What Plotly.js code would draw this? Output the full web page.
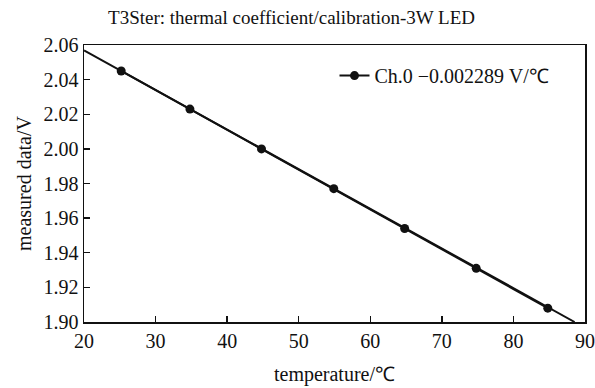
<!DOCTYPE html>
<html>
<head>
<meta charset="utf-8">
<script src="https://cdn.plot.ly/plotly-3.0.1.min.js"></script>
<style>html,body{margin:0;padding:0;background:#fff;}#chart{width:595px;height:388px;}</style>
</head>
<body>
<div id="chart"></div>
<script>
const temperature = [25.2, 34.8, 44.8, 54.9, 64.8, 74.8, 84.8];
const measured = [2.045, 2.023, 2.000, 1.977, 1.954, 1.931, 1.908];
const fitTemp = [20, 88.55];
const fitVolt = [2.0569, 1.90];
const seriesName = 'Ch.0 \u22120.002289 V/\u2103';
const xTicks = [20, 30, 40, 50, 60, 70, 80, 90];
const yTicks = [1.90, 1.92, 1.94, 1.96, 1.98, 2.00, 2.02, 2.04, 2.06];

const fam = 'Liberation Serif, Times New Roman, serif';
const font = {family: fam, size: 20, color: '#111'};

const traces = [
  {x: fitTemp, y: fitVolt, mode: 'lines', line: {color: '#111', width: 2}, showlegend: false, hoverinfo: 'skip'},
  {x: temperature, y: measured, mode: 'lines+markers', name: seriesName,
   line: {color: '#111', width: 2}, marker: {color: '#111', size: 9}}
];

const layout = {
  width: 595, height: 388,
  margin: {l: 84, r: 10, t: 45, b: 66},
  paper_bgcolor: '#fff', plot_bgcolor: '#fff',
  font: font,
  title: {text: 'T3Ster: thermal coefficient/calibration-3W LED', font: {family: fam, size: 19, color: '#111'}, x: 0.49, xanchor: 'center', y: 0.955, yanchor: 'middle'},
  xaxis: {range: [20, 90], tickvals: xTicks, ticktext: xTicks.map(String),
    ticks: 'inside', ticklen: 6, tickwidth: 1.3, tickcolor: '#111',
    showline: true, linecolor: '#111', linewidth: 1.5, mirror: true,
    showgrid: false, zeroline: false,
    title: {text: 'temperature/\u2103', font: font, standoff: 16}},
  yaxis: {range: [1.90, 2.06], tickvals: yTicks, ticktext: yTicks.map(v => v.toFixed(2)),
    ticks: 'inside', ticklen: 6, tickwidth: 1.3, tickcolor: '#111',
    showline: true, linecolor: '#111', linewidth: 1.5, mirror: true,
    showgrid: false, zeroline: false,
    title: {text: 'measured data/V', font: font, standoff: 6}},
  legend: {x: 0.5, y: 0.96, xanchor: 'left', yanchor: 'top', bgcolor: 'rgba(0,0,0,0)', font: font},
  showlegend: true
};

Plotly.newPlot('chart', traces, layout, {staticPlot: true, displayModeBar: false});
</script>
</body>
</html>
